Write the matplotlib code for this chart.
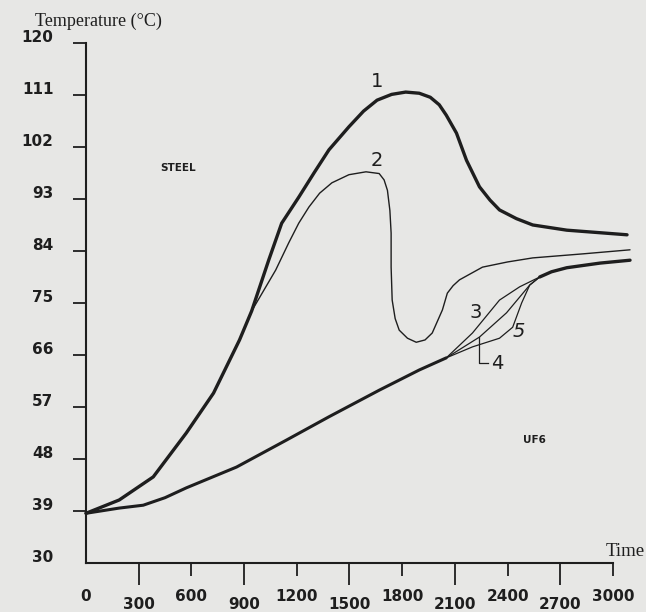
import matplotlib
matplotlib.use("Agg")
import matplotlib.pyplot as plt
from matplotlib.transforms import ScaledTranslation

# curve 1 (steel, thick)
c1_time = [0, 189, 383, 571, 726, 874, 943, 1040, 1114, 1211, 1300, 1383, 1497, 1580, 1657, 1740, 1820,
           1897, 1960, 2011, 2051, 2109, 2166, 2240, 2300, 2354, 2450, 2543, 2737, 3080]
c1_temp = [38.6, 40.9, 44.9, 52.5, 59.4, 68.6, 73.6, 82.4, 88.8, 93.3, 97.6, 101.5, 105.5, 108.2, 110.1, 111.1, 111.5,
           111.3, 110.6, 109.3, 107.5, 104.4, 99.7, 95.1, 92.8, 91.1, 89.6, 88.5, 87.6, 86.8]

# curve 2 (thin)
c2_time = [0, 189, 383, 571, 726, 874, 943, 1080, 1154, 1211, 1269, 1330, 1400, 1497, 1594, 1669, 1697,
           1716, 1730, 1737, 1737, 1743, 1760, 1783, 1830, 1880, 1930, 1971, 2029, 2057, 2090, 2126, 2257,
           2400, 2543, 2829, 3097]
c2_temp = [38.6, 40.9, 44.9, 52.5, 59.4, 68.6, 73.6, 80.7, 85.4, 88.8, 91.6, 94.0, 95.8, 97.2, 97.7, 97.4, 96.3,
           94.5, 91.0, 87.1, 81.2, 75.5, 72.3, 70.3, 68.9, 68.2, 68.6, 69.8, 73.8, 76.7, 78.0, 79.0, 81.2,
           82.1, 82.8, 83.5, 84.2]

# UF6 reference (thick)
uf6_time = [0, 189, 326, 450, 571, 857, 1143, 1383, 1669, 1897, 2051]
uf6_temp = [38.6, 39.5, 40.0, 41.3, 43.0, 46.6, 51.3, 55.3, 59.9, 63.4, 65.5]
uf6_end_time = [2583, 2650, 2737, 2926, 3097]
uf6_end_temp = [79.5, 80.4, 81.1, 81.9, 82.4]

# curves 3, 4, 5 (thin branches)
c3_time = [2051, 2200, 2354, 2469, 2583]
c3_temp = [65.5, 69.8, 75.5, 77.8, 79.5]
c4_time = [2051, 2240, 2394, 2526, 2583]
c4_temp = [65.5, 69.1, 73.3, 78.1, 79.5]
c5_time = [2051, 2200, 2354, 2429, 2480, 2526, 2583]
c5_temp = [65.5, 67.4, 68.9, 70.8, 75.0, 78.1, 79.5]

y_ticks = [30, 39, 48, 57, 66, 75, 84, 93, 102, 111, 120]
x_ticks_upper = [0, 600, 1200, 1800, 2400, 3000]
x_ticks_lower = [300, 900, 1500, 2100, 2700]

ink = '#1e1e1e'
paper = '#e7e7e5'

fig = plt.figure(figsize=(6.46, 6.12), dpi=100, facecolor=paper)
ax = fig.add_axes([0.1331, 0.0801, 0.8158, 0.8497], facecolor=paper)

kw = dict(color=ink, clip_on=False, solid_capstyle='round', solid_joinstyle='round')
ax.plot(c1_time, c1_temp, lw=2.4, **kw)
ax.plot(c2_time, c2_temp, lw=1.0, **kw)
ax.plot(uf6_time, uf6_temp, lw=2.2, **kw)
ax.plot(uf6_end_time, uf6_end_temp, lw=2.4, **kw)
ax.plot(c3_time, c3_temp, lw=0.9, **kw)
ax.plot(c4_time, c4_temp, lw=0.9, **kw)
ax.plot(c5_time, c5_temp, lw=0.9, **kw)

# leader for curve 4
ax.plot([2240, 2240, 2290], [69.1, 64.6, 64.6], lw=0.9, color=ink, clip_on=False)

num_kw = dict(fontsize=14, color=ink, family='DejaVu Sans', ha='center', va='center')
ax.text(1657, 113.3, '1', **num_kw)
ax.text(1657, 99.6, '2', **num_kw)
ax.text(2220, 73.4, '3', **num_kw)
ax.text(2340, 64.6, '4', **num_kw)
ax.text(2465, 70.0, '5', style='italic', **num_kw)
ax.text(526, 98.4, 'STEEL', fontsize=7.5, weight='bold', color=ink, ha='center', va='center')
ax.text(2554, 51.3, 'UF6', fontsize=7.5, weight='bold', color=ink, ha='center', va='center')

ax.set_xlim(0, 3000)
ax.set_ylim(30, 120)
for s in ['top', 'right']:
    ax.spines[s].set_visible(False)
for s in ['left', 'bottom']:
    ax.spines[s].set_linewidth(1.5)
    ax.spines[s].set_color(ink)

ax.set_yticks(y_ticks)
ax.set_yticklabels([str(v) for v in y_ticks])
ax.tick_params(axis='y', length=9.4, width=1.3, pad=14, colors=ink, labelsize=11)
ax.yaxis.get_major_ticks()[0].tick1line.set_visible(False)
for lab in ax.get_yticklabels():
    lab.set_fontweight('bold')
    lab.set_transform(lab.get_transform() + ScaledTranslation(0, 5 / 72, fig.dpi_scale_trans))

ax.set_xticks(x_ticks_upper)
ax.set_xticklabels([str(v) for v in x_ticks_upper])
ax.set_xticks(x_ticks_lower, minor=True)
ax.set_xticklabels([str(v) for v in x_ticks_lower], minor=True)
ax.tick_params(axis='x', which='major', length=9.4, width=1.3, pad=9, colors=ink, labelsize=11)
ax.tick_params(axis='x', which='minor', length=15.8, width=1.3, pad=9, colors=ink, labelsize=11)
ax.xaxis.get_major_ticks()[0].tick1line.set_visible(False)
for lab in ax.get_xticklabels() + ax.get_xticklabels(minor=True):
    lab.set_fontweight('bold')

fig.text(35 / 646, 1 - 21 / 612, 'Temperature (°C)', family='Liberation Serif', fontsize=13,
         color=ink, ha='left', va='center')
fig.text(606 / 646, 1 - 552 / 612, 'Time', family='Liberation Serif', fontsize=13.5,
         color=ink, ha='left', va='center')

fig.savefig('out.png', dpi=100, facecolor=paper)
